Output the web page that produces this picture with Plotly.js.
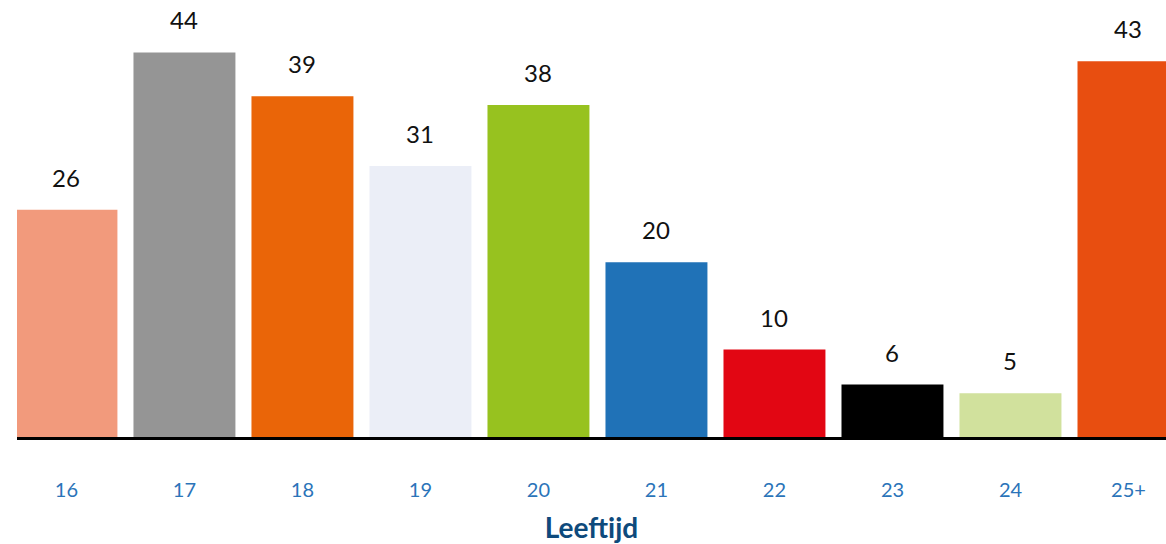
<!DOCTYPE html>
<html>
<head>
<meta charset="utf-8">
<script src="https://cdn.plot.ly/plotly-3.0.1.min.js"></script>
<style>html,body{margin:0;padding:0;background:#fff;}#chart{width:1166px;height:544px;}</style>
</head>
<body>
<div id="chart"></div>
<script>
const categories = ["16", "17", "18", "19", "20", "21", "22", "23", "24", "25+"];
const values = [26, 44, 39, 31, 38, 20, 10, 6, 5, 43];
const barColors = ["#f29a7c", "#959595", "#ea6508", "#ebeef7", "#97c21f", "#2072b7", "#e20613", "#000000", "#d1e19d", "#e84e10"];
const axisTitle = "Leeftijd";

const fontFam = "Lato, 'Open Sans', sans-serif";

const trace = {
  type: "bar",
  x: categories,
  y: values,
  marker: {color: barColors, line: {width: 0}},
  hoverinfo: "skip"
};

const annotations = categories.map((c, i) => ({
  x: i, y: values[i], xref: "x", yref: "y",
  text: String(values[i]),
  showarrow: false, yanchor: "bottom", yshift: 16,
  font: {family: fontFam, size: 24, color: "#111111"}
}));

const layout = {
  width: 1166, height: 544,
  margin: {l: 17, r: 0, t: 0, b: 107},
  paper_bgcolor: "#ffffff", plot_bgcolor: "#ffffff",
  bargap: 0.136,
  showlegend: false,
  xaxis: {
    type: "category",
    range: [-0.419, 9.318],
    showline: true, linecolor: "#000000", linewidth: 3,
    showgrid: false, zeroline: false,
    ticks: "outside", ticklen: 33, tickcolor: "rgba(0,0,0,0)",
    tickfont: {family: fontFam, size: 20, color: "#2b74b9"},
    title: {text: axisTitle, standoff: 20, font: {family: fontFam, size: 28, color: "#0e4a7c", weight: "bold"}},
    automargin: false
  },
  yaxis: {
    range: [0, 50],
    visible: false,
    showgrid: false, zeroline: false
  },
  annotations: annotations
};

Plotly.newPlot("chart", [trace], layout, {displayModeBar: false, staticPlot: true});
</script>
</body>
</html>
